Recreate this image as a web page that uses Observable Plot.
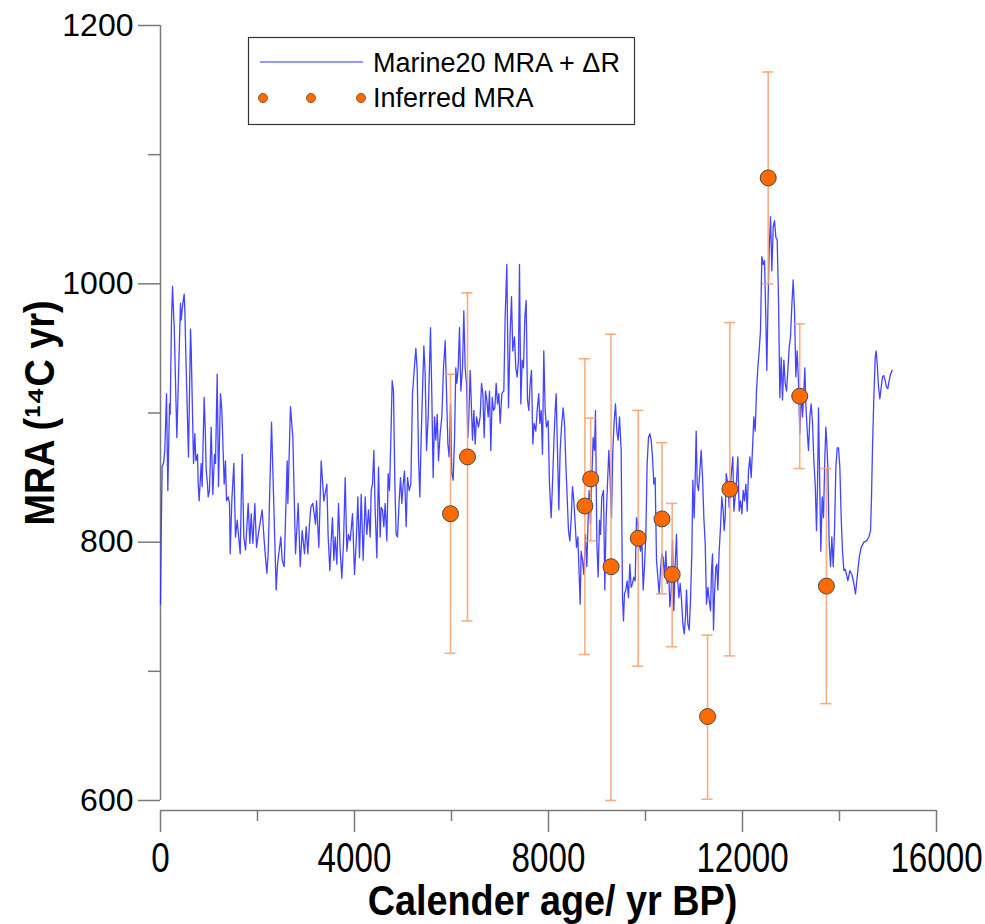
<!DOCTYPE html>
<html>
<head>
<meta charset="utf-8">
<script src="https://cdn.jsdelivr.net/npm/d3@7"></script>
<script src="https://cdn.jsdelivr.net/npm/@observablehq/plot@0.6"></script>
<style>
  html, body { margin: 0; padding: 0; background: #fff; }
  #chart { width: 985px; height: 924px; }
</style>
</head>
<body>
<div id="chart"></div>
<script>
// ---------- data ----------
const lineAge = [
0,14,34,62,89,124,151,186,199,227,248,275,282,337,412,426,461,488,502,529,577,619,632,681,708,729,763,777,797,839,859,900,921,942,969,983,1010,1045,1079,1114,1134,1169,1196,1237,1265,1313,1340,1361,1395,1423,1437,1471,1512,1546,1581,1643,1684,1718,1753,1808,1842,1870,1904,1945,1980,2028,2096,2138,2165,2193,2220,2289,2316,2385,2413,2481,2509,2550,2612,2626,2680,2729,2784,2839,2880,2921,2969,3004,3038,3072,3100,3141,3196,3217,3265,3313,3368,3430,3457,3492,
3519,3546,3574,3601,3636,3670,3705,3739,3773,3808,3842,3876,3911,3959,4000,4034,4069,4103,4138,4179,4220,4254,4289,4323,4344,4371,4399,4426,4461,4495,4529,4550,4577,4605,4632,4667,4694,4722,4749,4777,4804,4832,4859,4887,4921,4949,4976,5004,5031,5065,5093,5127,5162,5196,5223,5265,5292,5320,5347,5375,5402,5430,5457,5485,5519,5567,5595,5622,5650,5677,5705,5732,5766,5801,5835,5870,5897,5925,5952,5980,6007,6034,6062,6089,6110,6138,6165,6193,6227,6254,6282,6309,6337,6358,6385,6406,6433,6461,6488,6516,6557,6591,6619,6646,6674,6701,6729,6756,6784,6811,6839,6866,6894,6921,6949,6976,7004,7038,7072,
7079,7106,7141,7175,7209,7237,7264,7299,7326,7354,7381,7402,7429,7457,7484,7512,7539,7567,7594,7622,7649,7677,7704,7739,7766,7800,7821,7849,7876,7903,7931,7958,7993,8020,8055,8082,8110,8137,8158,8185,8213,8240,8268,8302,8330,8357,8385,8412,8440,8467,8495,8522,8550,8577,8605,8632,8653,8673,8701,8728,8763,8790,8818,8838,8866,8893,8921,8948,8969,8996,9024,9051,9072,9099,9134,9161,9189,9216,9244,9271,9299,9326,9354,9381,9409,9436,9464,9498,9526,9546,9567,9594,9622,9649,9677,9704,9732,9759,9787,9814,9842,9869,9897,9924,9952,9979,10007,10034,10062,10089,10117,10144,10172,10199,10227,10254,10282,10309,10337,10364,10392,10419,10447,10474,10502,10529,
10557,10584,10612,10639,10660,10688,10715,10743,10770,10798,10825,10846,10873,10901,10928,10956,10976,11004,11024,11045,11066,11093,11121,11148,11176,11203,11231,11258,11286,11313,11341,11361,11382,11402,11423,11451,11471,11492,11519,11547,11574,11602,11622,11643,11664,11684,11705,11725,11746,11774,11801,11822,11849,11877,11904,11932,11959,11987,12014,12042,12069,12097,12124,12152,12179,12207,12234,12262,12289,12316,12344,12371,12399,12426,12454,12481,12502,12523,12550,12578,12605,12633,12660,12688,12715,12743,12770,12798,12825,12853,12880,12908,12935,12963,12990,13018,13045,13073,13100,13127,13155,13182,13210,13237,13265,13285,13306,13334,13361,13389,13416,13444,13471,13499,13526,13547,13567,13588,13615,13643,13670,13698,13719,13739,13760,13787,13815,13842,13870,13897,13925,13952,13980,14007,14035,14062,
14090,14117,14145,14172,14213,14255,14296,14330,14365,14406,14447,14502,14557,14605,14640,14660,14681,14708,14736,14756,14777,14805,14832,14860,14887,14914,14942,14969,14997,15024,15052,15086
];
const lineMra = [
752,804,859,861,871,915,840,907,899,972,998,972,968,881,985,972,985,992,979,935,866,965,951,861,884,863,868,845,832,861,843,912,889,856,845,835,840,889,837,868,861,930,843,915,902,845,863,832,835,830,791,832,861,804,817,791,868,804,794,830,799,822,799,830,796,809,825,801,788,776,791,893,856,763,783,804,786,781,863,830,905,881,791,830,781,809,791,812,791,814,827,830,814,832,796,863,832,845,804,778,
801,819,786,804,783,830,793,772,799,850,793,806,801,822,775,799,835,788,837,786,835,806,825,804,840,845,871,825,788,858,804,827,825,812,830,801,853,840,879,925,917,845,806,804,832,850,830,845,855,812,850,840,845,915,929,950,933,866,835,881,917,952,930,871,897,966,912,850,897,879,899,863,884,897,935,956,917,876,866,907,853,848,879,935,923,935,966,917,935,979,935,923,881,897,933,910,879,902,876,897,889,897,923,915,881,917,910,897,917,871,912,902,904,923,907,915,892,915,917,
917,974,1015,904,961,990,948,959,935,928,941,1015,907,941,935,974,987,910,902,923,933,876,892,886,902,915,892,902,868,948,902,889,894,845,819,845,876,902,915,871,825,871,889,904,892,861,835,809,801,817,843,832,814,796,804,775,752,793,786,775,806,781,819,840,814,850,881,871,902,801,773,817,806,835,840,763,819,845,871,848,819,871,894,907,886,879,897,871,757,739,760,763,770,757,783,765,768,773,770,819,814,799,793,804,763,781,806,861,881,884,879,866,845,850,786,773,760,778,791,788,773,793,768,781,750,763,
801,747,783,806,773,757,768,755,737,729,742,763,737,732,755,793,848,819,848,886,845,840,855,871,850,819,799,752,765,755,747,778,791,732,760,781,783,763,793,812,835,824,809,819,853,848,843,827,840,855,866,824,835,848,866,824,832,822,840,832,845,824,855,866,850,873,897,886,917,935,948,964,1021,1015,1018,974,933,979,1026,1052,1010,1044,1049,1036,1034,987,912,943,910,941,923,917,933,951,959,984,1003,979,928,948,923,884,917,897,917,935,907,886,871,897,907,892,863,845,809,845,904,855,793,835,819,866,889,876,858,799,781,804,781,809,858,873,873,858,819,793,
778,779,775,770,778,775,768,760,773,788,796,800,801,804,809,835,874,912,943,948,938,920,911,920,928,929,925,920,919,925,930,933
];

const ptAge = [5980, 6330, 8750, 8870, 9290, 9850, 10340, 10550, 11280, 11740, 12530, 13180, 13730];
const ptMra = [822, 866, 828, 849, 781, 803, 818, 775, 665, 841, 1082, 913, 766];
const ptLo  = [714, 739, 713, 801, 600, 704, 760, 719, 601, 712, 1000, 857, 675];
const ptHi  = [930, 993, 942, 896, 961, 902, 877, 830, 728, 970, 1164, 969, 857];

const xTicks = [0, 4000, 8000, 12000, 16000];
const xMinor = [2000, 6000, 10000, 14000];
const yTicks = [600, 800, 1000, 1200];
const yMinor = [700, 900, 1100];

const xTitle = "Calender age/ yr BP)";
const yTitle = "MRA (\u00B9\u2074C yr)";
const legendLine = "Marine20 MRA + \u0394R";
const legendDots = "Inferred MRA";

// ---------- tables ----------
const curve = lineAge.map((a, i) => ({age: a, mra: lineMra[i]}));
const pts = ptAge.map((a, i) => ({age: a, mra: ptMra[i], lo: ptLo[i], hi: ptHi[i]}));

const axisGray = "#7a7a7a";
const blue = "#3030ff";
const errColor = "#f6a06a";
const dotFill = "#ff6a00";
const sans = "'Liberation Sans', Arial, sans-serif";
const capHalf = 115;

const chart = Plot.plot({
  width: 985,
  height: 924,
  marginLeft: 160,
  marginRight: 49,
  marginTop: 25,
  marginBottom: 124,
  x: {domain: [0, 16000], axis: null},
  y: {domain: [600, 1200], axis: null},
  style: {background: "#fff", fontFamily: sans, color: "#000"},
  marks: [
    Plot.ruleX([0], {y1: 600, y2: 1200, stroke: axisGray, strokeWidth: 1.5}),
    Plot.ruleY([600], {x1: 0, x2: 16000, dy: 10, stroke: axisGray, strokeWidth: 1.5}),
    Plot.axisY({ticks: yTicks, tickSize: 22, tickPadding: 5, fontSize: 32, fontFamily: sans,
      stroke: axisGray, strokeWidth: 1.5, fill: "#000", tickFormat: d => String(d), label: null}),
    Plot.axisY({ticks: yMinor, tickSize: 12, tickFormat: () => "", stroke: axisGray, strokeWidth: 1.5, label: null}),
    Plot.axisX({ticks: xTicks, tickSize: 22, tickPadding: 10, dy: 10, fontSize: 42, fontFamily: sans,
      stroke: axisGray, strokeWidth: 1.5, fill: "#000", tickFormat: d => String(d), label: null}),
    Plot.axisX({ticks: xMinor, tickSize: 11, dy: 10, tickFormat: () => "", stroke: axisGray, strokeWidth: 1.5, label: null}),
    Plot.line(curve, {x: "age", y: "mra", stroke: blue, strokeWidth: 1.3, strokeOpacity: 0.9}),
    Plot.ruleX(pts, {x: "age", y1: "lo", y2: "hi", stroke: errColor, strokeWidth: 1.6, strokeOpacity: 0.85}),
    Plot.ruleY(pts, {y: "lo", x1: d => d.age - capHalf, x2: d => d.age + capHalf, stroke: errColor, strokeWidth: 1.6, strokeOpacity: 0.85}),
    Plot.ruleY(pts, {y: "hi", x1: d => d.age - capHalf, x2: d => d.age + capHalf, stroke: errColor, strokeWidth: 1.6, strokeOpacity: 0.85}),
    Plot.dot(pts, {x: "age", y: "mra", r: 8, fill: dotFill, stroke: "#4a4a4a", strokeWidth: 1}),
    Plot.text([xTitle], {frameAnchor: "bottom", dy: 101, dx: 4, text: d => d, fontSize: 42, fontWeight: "bold",
      fontFamily: sans, fill: "#000", lineAnchor: "middle"}),
    Plot.text([yTitle], {frameAnchor: "left", dx: -120, text: d => d, fontSize: 42, fontWeight: "bold",
      fontFamily: sans, fill: "#000", rotate: -90, lineAnchor: "middle", textAnchor: "middle"})
  ]
});

const svg = d3.select(chart);
// condensed look for the x tick labels and the titles (reference uses a narrow face)
svg.selectAll('g[aria-label="x-axis tick label"] text').each(function () {
  const t = this.getAttribute("transform") || "";
  this.setAttribute("transform", t + " scale(0.79,1)");
});
svg.selectAll('g[aria-label="text"] text').each(function () {
  const t = this.getAttribute("transform") || "";
  this.setAttribute("transform", t + " scale(0.9,1)");
});

// ---------- legend (inside plot area, top) ----------
const lg = svg.append("g").attr("class", "legend").attr("text-anchor", "start");
lg.append("rect").attr("x", 248.5).attr("y", 37.5).attr("width", 386).attr("height", 87)
  .attr("fill", "#fff").attr("stroke", "#333").attr("stroke-width", 1.2);
lg.append("line").attr("x1", 260).attr("x2", 363).attr("y1", 62).attr("y2", 62)
  .attr("stroke", blue).attr("stroke-width", 1.2);
[263, 311, 361].forEach(cx => lg.append("circle").attr("cx", cx).attr("cy", 98).attr("r", 4.5)
  .attr("fill", dotFill).attr("stroke", "#7a3a10").attr("stroke-width", 0.8));
lg.append("text").attr("x", 373).attr("y", 72).attr("font-size", 27).attr("font-family", sans)
  .attr("text-anchor", "start").attr("fill", "#000").text(legendLine);
lg.append("text").attr("x", 373).attr("y", 107).attr("font-size", 27).attr("font-family", sans)
  .attr("text-anchor", "start").attr("fill", "#000").text(legendDots);

document.getElementById("chart").appendChild(chart);
</script>
</body>
</html>
